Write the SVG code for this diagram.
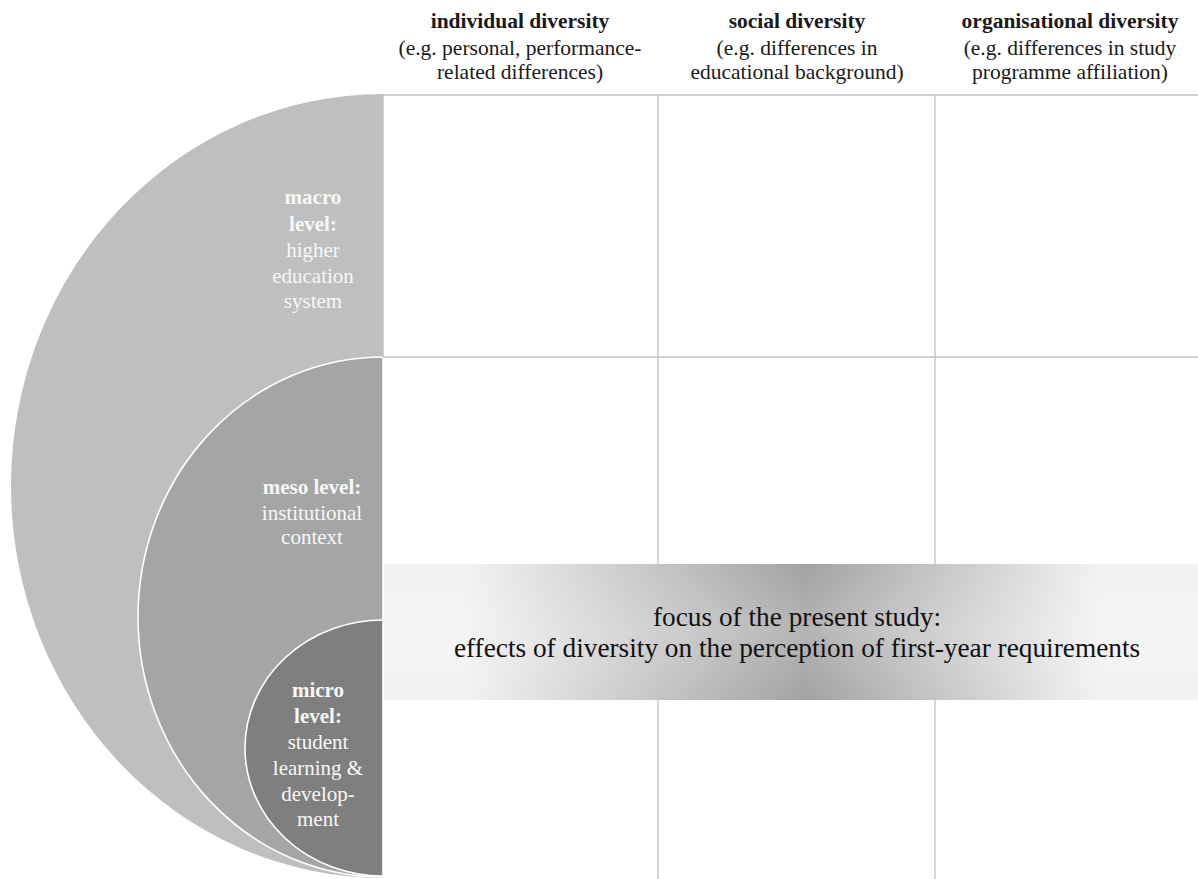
<svg xmlns="http://www.w3.org/2000/svg" width="1198" height="879" viewBox="0 0 1198 879">
  <style>
    .bg { fill: #ffffff; }
    .grid { stroke: #bfbfbf; stroke-width: 1.3; fill: none; }
    .level { stroke: #ffffff; stroke-width: 1.6; }
    text { font-family: 'Liberation Serif', 'Times New Roman', serif; }
    .head { font-size: 21.5px; fill: #1a1a1a; text-anchor: middle; }
    .b { font-weight: bold; }
    .lbl { font-size: 21px; fill: #f7f7f7; text-anchor: middle; }
    .focus { font-size: 27.3px; fill: #111111; text-anchor: middle; }
  </style>
  <defs>
    <linearGradient id="focusGrad" x1="383" y1="0" x2="1198" y2="0" gradientUnits="userSpaceOnUse">
      <stop offset="0" stop-color="#f2f2f2"/>
      <stop offset="0.1" stop-color="#f2f2f2"/>
      <stop offset="0.52" stop-color="#a2a2a2"/>
      <stop offset="0.88" stop-color="#f2f2f2"/>
      <stop offset="1" stop-color="#f2f2f2"/>
    </linearGradient>
    <!-- lightens the vertical middle so the core reads darker along the edges -->
    <linearGradient id="focusGlow" x1="0" y1="564" x2="0" y2="700" gradientUnits="userSpaceOnUse">
      <stop offset="0" stop-color="#ffffff" stop-opacity="0"/>
      <stop offset="0.5" stop-color="#ffffff" stop-opacity="0.2"/>
      <stop offset="1" stop-color="#ffffff" stop-opacity="0"/>
    </linearGradient>
  </defs>

  <rect class="bg" x="0" y="0" width="1198" height="879"/>

  <!-- column headings -->
  <g id="col-individual" class="head">
    <text class="b" x="520" y="28">individual diversity</text>
    <text x="520" y="55">(e.g. personal, performance-</text>
    <text x="520" y="79">related differences)</text>
  </g>
  <g id="col-social" class="head">
    <text class="b" x="797" y="28">social diversity</text>
    <text x="797" y="55">(e.g. differences in</text>
    <text x="797" y="79">educational background)</text>
  </g>
  <g id="col-organisational" class="head">
    <text class="b" x="1070" y="28">organisational diversity</text>
    <text x="1070" y="55">(e.g. differences in study</text>
    <text x="1070" y="79">programme affiliation)</text>
  </g>

  <!-- nested levels: half-ellipses standing on the x=383 axis -->
  <g id="macro-level">
    <path d="M383,94 A372,392 0 0 0 383,878 Z" fill="#bfbfbf"/>
    <text class="lbl" x="313"><tspan class="b" x="313" y="204">macro</tspan><tspan class="b" x="313" y="231">level:</tspan><tspan x="313" y="257">higher</tspan><tspan x="313" y="283">education</tspan><tspan x="313" y="308">system</tspan></text>
  </g>
  <g id="meso-level">
    <path class="level" d="M383,357 A245,260 0 0 0 383,877 Z" fill="#a5a5a5"/>
    <text class="lbl" x="312"><tspan class="b" x="312" y="494">meso level:</tspan><tspan x="312" y="520">institutional</tspan><tspan x="312" y="544">context</tspan></text>
  </g>
  <g id="micro-level">
    <path class="level" d="M383,620 A138,128 0 0 0 383,876 Z" fill="#7f7f7f"/>
    <text class="lbl" x="318"><tspan class="b" x="318" y="697">micro</tspan><tspan class="b" x="318" y="723">level:</tspan><tspan x="318" y="749">student</tspan><tspan x="318" y="775">learning &amp;</tspan><tspan x="318" y="801">develop-</tspan><tspan x="318" y="826">ment</tspan></text>
  </g>

  <!-- table rules -->
  <g id="connectors" class="grid">
    <line x1="383" y1="95" x2="1198" y2="95"/>
    <line x1="383" y1="357" x2="1198" y2="357"/>
    <line x1="383" y1="95" x2="383" y2="357"/>
    <line x1="658" y1="95" x2="658" y2="879"/>
    <line x1="935" y1="95" x2="935" y2="879"/>
  </g>

  <!-- study focus band -->
  <g id="focus-band">
    <rect x="384" y="564" width="814" height="136" fill="url(#focusGrad)"/>
    <rect x="384" y="564" width="814" height="136" fill="url(#focusGlow)"/>
    <text class="focus" x="797" y="626">focus of the present study:</text>
    <text class="focus" x="797" y="657">effects of diversity on the perception of first-year requirements</text>
  </g>
</svg>
